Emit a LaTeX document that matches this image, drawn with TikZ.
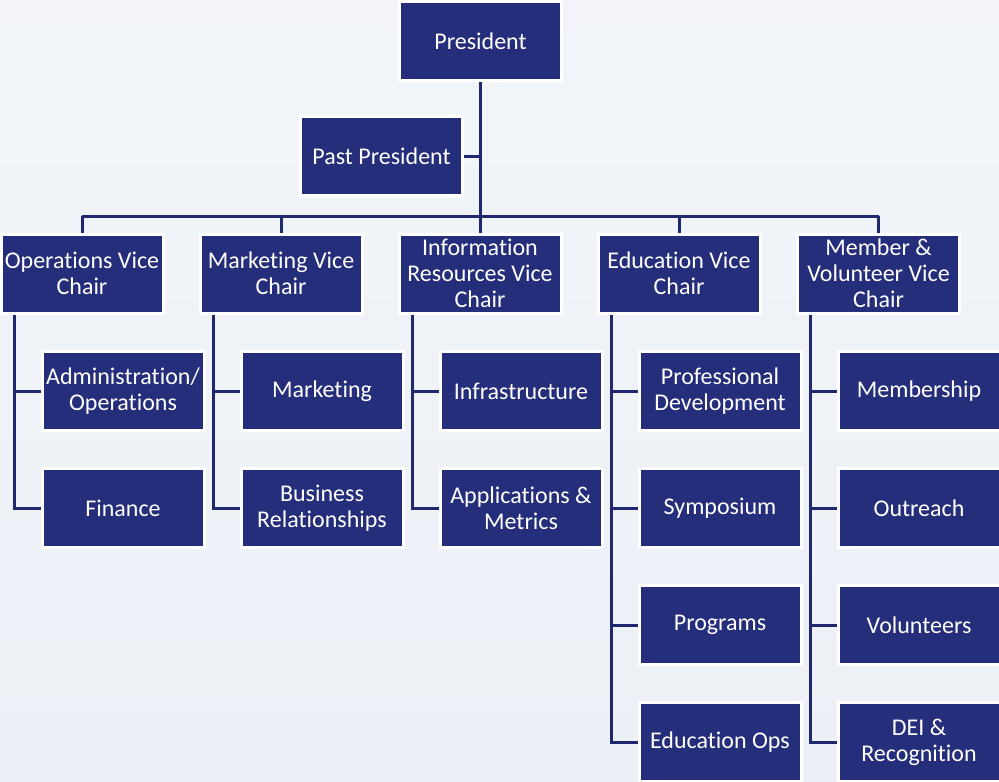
\documentclass[tikz,border=0pt]{standalone}
\usepackage{fontspec}
\setmainfont{Carlito}[Ligatures=NoCommon]
\usepackage{tikz}
\usetikzlibrary{calc}

\definecolor{navy}{RGB}{36,46,122}
\definecolor{wire}{RGB}{31,40,110}
\definecolor{paper}{RGB}{236,240,246}

\begin{document}
\begin{tikzpicture}[x=0.5pt,y=-0.5pt,
	box/.style={draw=white,line width=1.5pt,fill=navy,text=white,
		minimum width=81pt,minimum height=39.5pt,inner sep=1pt,
		align=center,font=\fontsize{12}{13}\selectfont},
	wire/.style={draw=wire,line width=1.5pt}]

	\useasboundingbox (0,0) rectangle (999,781);
	\shade[top color=paper!70!white,bottom color=paper] (0,0) rectangle (999,781);
	
	% top
	\node [box] (pres) at (480.5,41) {President};
	\node [box] (past) at (381.5,156) {Past President};
	
	% vice chairs
	\node [box] (ops) at (82,273.5) {Operations Vice\\Chair};
	\node [box] (mkt) at (281,273.5) {Marketing Vice\\Chair};
	\node [box] (info) at (480,273.5) {Information\\Resources Vice\\Chair};
	\node [box] (edu) at (679,273.5) {Education Vice\\Chair};
	\node [box] (mem) at (878.5,273.5) {Member \&\\Volunteer Vice\\Chair};
	
	% committees
	\node [box] (admin) at (123,391) {Administration/\\Operations};
	\node [box] (fin) at (123,508) {Finance};
	\node [box] (mktg) at (322,391) {Marketing};
	\node [box] (bus) at (322,508) {Business\\Relationships};
	\node [box] (infra) at (521,391) {Infrastructure};
	\node [box] (apps) at (521,508) {Applications \&\\Metrics};
	\node [box] (prof) at (720,391) {Professional\\Development};
	\node [box] (symp) at (720,508) {Symposium};
	\node [box] (prog) at (720,625) {Programs};
	\node [box] (eduops) at (720,742) {Education Ops};
	\node [box] (memb) at (919,391) {Membership};
	\node [box] (outr) at (919,508) {Outreach};
	\node [box] (vol) at (919,625) {Volunteers};
	\node [box] (dei) at (919,742) {DEI \&\\Recognition};

	\coordinate (bar) at (480,216);
	
	\draw[wire] (pres.south) -- (pres.south |- bar);
	\draw[wire] (past.east) -- (past.east -| pres.south);
	\draw[wire] (ops.north |- bar) -- (mem.north |- bar);
	\foreach \vc in {ops,mkt,info,edu,mem}
		\draw[wire] (\vc.north |- bar) -- (\vc.north);
	
	%	spines down the left of each column
	\foreach \vc/\kids in {ops/{admin,fin},mkt/{mktg,bus},info/{infra,apps},
			edu/{prof,symp,prog,eduops},mem/{memb,outr,vol,dei}}{
		\coordinate (\vc sp) at ($(\vc.south west)+(14.5,0)$);
		\foreach \k in \kids
			\draw[wire] (\vc sp) |- (\k.west);
	}

\end{tikzpicture}
\end{document}
